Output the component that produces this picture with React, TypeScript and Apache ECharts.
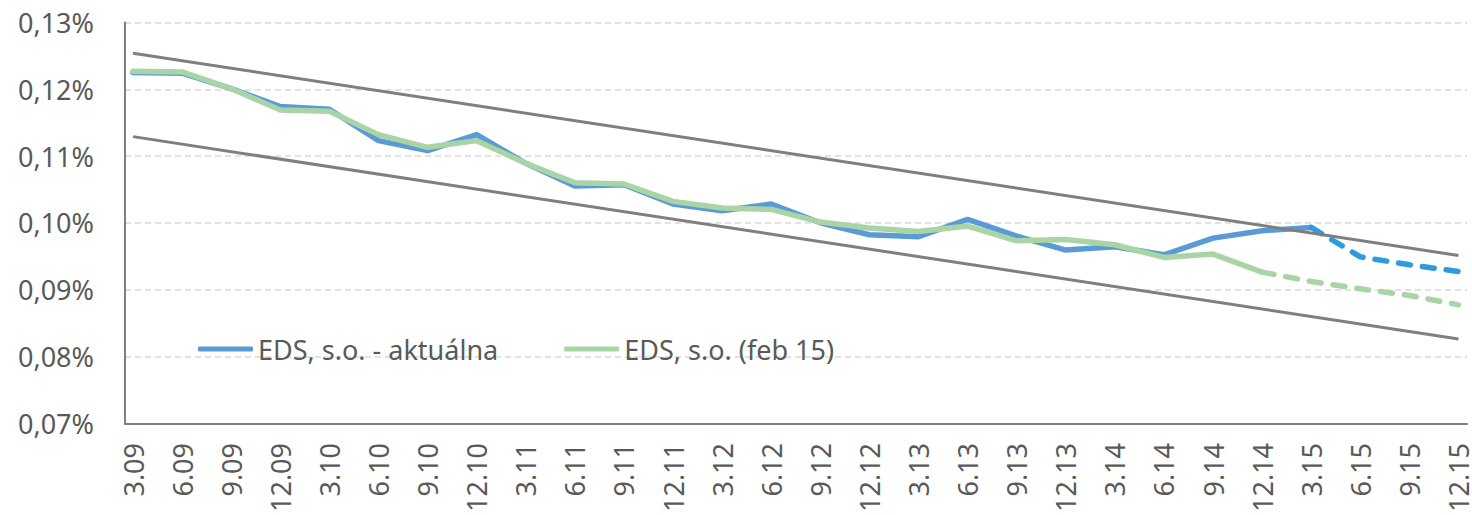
import React, { useEffect, useRef } from "react";
import * as echarts from "echarts";

const categories = [
  "3.09", "6.09", "9.09", "12.09",
  "3.10", "6.10", "9.10", "12.10",
  "3.11", "6.11", "9.11", "12.11",
  "3.12", "6.12", "9.12", "12.12",
  "3.13", "6.13", "9.13", "12.13",
  "3.14", "6.14", "9.14", "12.14",
  "3.15", "6.15", "9.15", "12.15",
];

const actualSolid: (number | null)[] = [
  0.1225, 0.1224, 0.1201, 0.1174,
  0.1170, 0.1123, 0.1108, 0.1132,
  0.1089, 0.1055, 0.1057, 0.1028,
  0.1018, 0.1028, 0.1000, 0.0982,
  0.0979, 0.1005, 0.0980, 0.0959,
  0.0964, 0.0952, 0.0977, 0.0988,
  0.0993, null, null, null,
];

const actualForecast: (number | null)[] = [
  null, null, null, null, null, null, null, null,
  null, null, null, null, null, null, null, null,
  null, null, null, null, null, null, null, null,
  0.0993, 0.0949, 0.0937, 0.0927,
];

const feb15Solid: (number | null)[] = [
  0.1227, 0.1226, 0.1201, 0.1169,
  0.1167, 0.1132, 0.1113, 0.1123,
  0.1089, 0.1060, 0.1058, 0.1032,
  0.1022, 0.1020, 0.1001, 0.0992,
  0.0987, 0.0995, 0.0973, 0.0975,
  0.0967, 0.0948, 0.0953, 0.0926,
  null, null, null, null,
];

const feb15Forecast: (number | null)[] = [
  null, null, null, null, null, null, null, null,
  null, null, null, null, null, null, null, null,
  null, null, null, null, null, null, null, 0.0926,
  0.0912, 0.0901, 0.0891, 0.0877,
];

const upperBand: (number | null)[] = [
  0.12539, null, null, null, null, null, null, null,
  null, null, null, null, null, null, null, null,
  null, null, null, null, null, null, null, null,
  null, null, null, 0.09509,
];

const lowerBand: (number | null)[] = [
  0.1129, null, null, null, null, null, null, null,
  null, null, null, null, null, null, null, null,
  null, null, null, null, null, null, null, null,
  null, null, null, 0.08257,
];

const yTicks = { min: 0.07, max: 0.13, interval: 0.01 };

const FONT = "Noto Sans";
const TEXT = "#595959";
const BLUE = "#5B9BD5";
const BLUE_DASH = "#2D9BDE";
const GREEN = "#A9D4A5";
const GRAY = "#7F7F7F";

export default function App() {
  const ref = useRef<HTMLDivElement>(null);
  useEffect(() => {
    document.body.style.margin = "0";
    if (!ref.current) return;
    const chart = echarts.init(ref.current, undefined, { renderer: "svg" });
    const fmt = (v: number) => v.toFixed(2).replace(".", ",") + "%";
    chart.setOption({
      animation: false,
      backgroundColor: "#ffffff",
      textStyle: { fontFamily: FONT },
      grid: [
        { left: 125, right: 5, top: 22.5, bottom: 91.7 },
        { left: 133, right: 12, top: 22.5, bottom: 91.7 },
      ],
      legend: {
        left: 193,
        top: 328,
        itemWidth: 55,
        itemHeight: 5,
        itemGap: 66,
        icon: "roundRect",
        itemStyle: { borderWidth: 0 },
        lineStyle: { width: 0, type: "solid" },
        data: [
          { name: "EDS, s.o. - aktuálna", itemStyle: { color: BLUE, borderWidth: 0 } },
          { name: "EDS, s.o. (feb 15)", itemStyle: { color: GREEN, borderWidth: 0 } },
        ],
        textStyle: { fontFamily: FONT, fontSize: 27, color: TEXT, lineHeight: 32 },
      },
      xAxis: [
        {
          type: "category",
          gridIndex: 0,
          data: categories,
          boundaryGap: false,
          axisLine: { show: true, lineStyle: { color: GRAY, width: 2 } },
          axisTick: { show: false },
          axisLabel: { show: false },
          splitLine: { show: false },
        },
        {
          type: "category",
          gridIndex: 1,
          data: categories,
          boundaryGap: false,
          axisLine: { show: false },
          axisTick: { show: false },
          splitLine: { show: false },
          axisLabel: {
            rotate: 90,
            interval: 0,
            margin: 20,
            fontFamily: FONT,
            fontSize: 27,
            color: TEXT,
          },
        },
      ],
      yAxis: [
        {
          type: "value",
          gridIndex: 0,
          min: yTicks.min,
          max: yTicks.max,
          interval: yTicks.interval,
          axisLine: { show: true, lineStyle: { color: GRAY, width: 2 } },
          axisTick: { show: false },
          axisLabel: {
            margin: 31,
            fontFamily: FONT,
            fontSize: 27,
            color: TEXT,
            formatter: fmt,
          },
          splitLine: {
            show: true,
            lineStyle: { color: "#D9D9D9", width: 1.5, type: [6, 4] },
          },
        },
        {
          type: "value",
          gridIndex: 1,
          min: yTicks.min,
          max: yTicks.max,
          interval: yTicks.interval,
          show: false,
          splitLine: { show: false },
        },
      ],
      series: [
        {
          name: "EDS, s.o. - aktuálna",
          type: "line",
          xAxisIndex: 1,
          yAxisIndex: 1,
          data: actualSolid,
          symbol: "none",
          color: BLUE,
          lineStyle: { color: BLUE, width: 5.5, join: "round", cap: "round" },
        },
        {
          name: "aktuálna forecast",
          type: "line",
          xAxisIndex: 1,
          yAxisIndex: 1,
          data: actualForecast,
          symbol: "none",
          color: BLUE_DASH,
          lineStyle: { color: BLUE_DASH, width: 5.5, type: [12, 12], cap: "round", join: "round" },
        },
        {
          name: "EDS, s.o. (feb 15)",
          type: "line",
          xAxisIndex: 1,
          yAxisIndex: 1,
          data: feb15Solid,
          symbol: "none",
          color: GREEN,
          lineStyle: { color: GREEN, width: 5.5, join: "round", cap: "round" },
        },
        {
          name: "feb 15 forecast",
          type: "line",
          xAxisIndex: 1,
          yAxisIndex: 1,
          data: feb15Forecast,
          symbol: "none",
          color: GREEN,
          lineStyle: { color: GREEN, width: 5.5, type: [12, 12], cap: "round", join: "round" },
        },
        {
          name: "upper",
          type: "line",
          xAxisIndex: 1,
          yAxisIndex: 1,
          data: upperBand,
          connectNulls: true,
          symbol: "none",
          color: GRAY,
          lineStyle: { color: GRAY, width: 3 },
        },
        {
          name: "lower",
          type: "line",
          xAxisIndex: 1,
          yAxisIndex: 1,
          data: lowerBand,
          connectNulls: true,
          symbol: "none",
          color: GRAY,
          lineStyle: { color: GRAY, width: 3 },
        },
      ],
    });
    return () => chart.dispose();
  }, []);
  return <div ref={ref} style={{ width: 1472, height: 515 }} />;
}
